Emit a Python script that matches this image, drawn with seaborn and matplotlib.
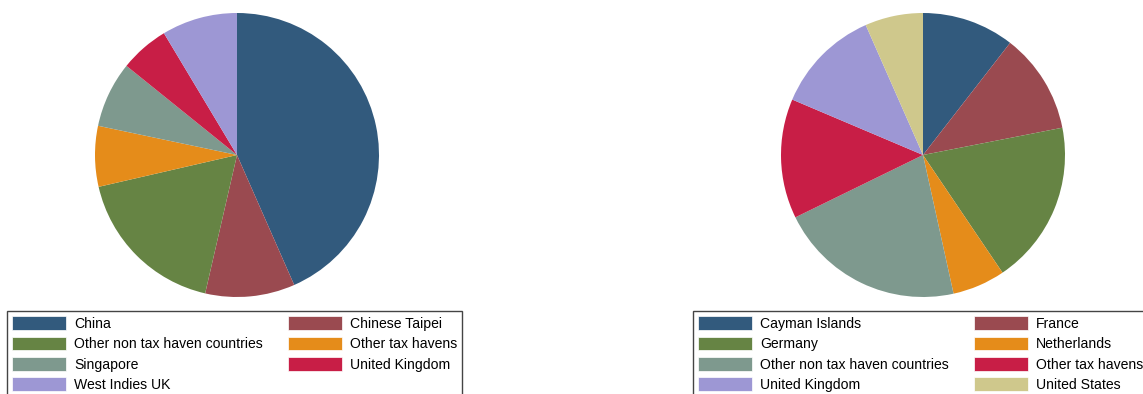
import matplotlib
matplotlib.use("Agg")
import matplotlib.pyplot as plt
import seaborn as sns
from matplotlib.patches import Patch

# Data (shares)
left_labels = ["China", "Chinese Taipei", "Other non tax haven countries", "Other tax havens",
               "Singapore", "United Kingdom", "West Indies UK"]
left_shares = [43.4, 10.2, 17.8, 6.9, 7.5, 5.6, 8.6]

right_labels = ["Cayman Islands", "France", "Germany", "Netherlands",
                "Other non tax haven countries", "Other tax havens", "United Kingdom", "United States"]
right_shares = [10.5, 11.4, 18.6, 6.0, 21.2, 13.6, 12.0, 6.6]

colors = ["#325A7D", "#9A4A50", "#668444", "#E58C1A", "#7E998E", "#C81E46", "#9D97D4", "#CFC88C"]

sns.set_theme(style="white")
plt.rcParams["font.family"] = ["Liberation Sans", "DejaVu Sans"]

W, H = 1143, 394
fig = plt.figure(figsize=(W / 100, H / 100), dpi=100)


def pie_axes(cx, cy, r):
    return fig.add_axes([(cx - r) / W, (H - cy - r) / H, 2 * r / W, 2 * r / H])


def draw(ax, shares, labels, legend_x):
    pal = sns.color_palette(colors[:len(shares)])
    ax.pie(shares, colors=pal, startangle=90, counterclock=False,
           wedgeprops=dict(linewidth=0))
    ax.set_xlim(-1, 1)
    ax.set_ylim(-1, 1)
    ax.set_aspect("equal")
    ax.axis("off")
    handles = [Patch(facecolor=c, edgecolor="white", linewidth=0.5) for c in pal]
    # legend fills column-wise, so reorder to read row by row
    order = list(range(0, len(labels), 2)) + list(range(1, len(labels), 2))
    leg = fig.legend([handles[i] for i in order], [labels[i] for i in order],
                     ncol=2, loc="upper left",
                     bbox_to_anchor=(legend_x / W, 1 - 311 / H),
                     fontsize=10.1, labelcolor="black", frameon=True, fancybox=False,
                     edgecolor="#444444", framealpha=1,
                     handlelength=3.86, handleheight=1.12, handletextpad=0.57,
                     labelspacing=0.42, columnspacing=1.78, borderpad=0.36,
                     borderaxespad=0)
    leg.get_frame().set_linewidth(1.0)
    return leg


draw(pie_axes(237, 155, 142), left_shares, left_labels, 7)
draw(pie_axes(923, 155, 142), right_shares, right_labels, 693)

fig.savefig("out.png", dpi=100)
